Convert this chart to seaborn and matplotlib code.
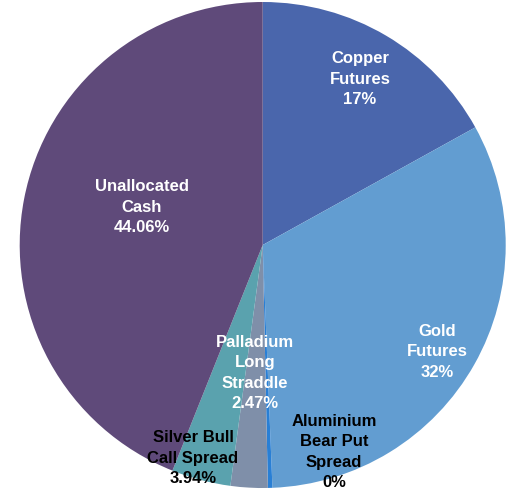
import matplotlib
matplotlib.use("Agg")
import matplotlib.pyplot as plt
import seaborn as sns

# Portfolio allocation (percent of capital)
categories = ["Copper\nFutures", "Gold\nFutures", "Aluminium\nBear Put\nSpread",
              "Palladium\nLong\nStraddle", "Silver Bull\nCall Spread", "Unallocated\nCash"]
values = [17.0, 32.49, 0.3, 2.47, 3.94, 44.06]
decimals = [0, 0, 0, 2, 2, 2]

colors = ["#4A66AC", "#629DD1", "#297FD5", "#7F8FA9", "#5AA2AE", "#5F4A7A"]
text_colors = ["white", "white", "black", "white", "black", "white"]
# label anchor points in pie units (centre 0,0, radius 1)
label_pos = [(0.40, 0.683), (0.72, -0.44), (0.293, -0.852),
             (-0.032, -0.527), (-0.287, -0.877), (-0.498, 0.156)]

sns.set_style("white")
plt.rcParams["font.family"] = ["Liberation Sans", "DejaVu Sans"]

W, H = 509, 490
fig = plt.figure(figsize=(W / 100, H / 100), dpi=100)
cx, cy, R = 262.7, 245.0, 243.0
ax = fig.add_axes([(cx - R) / W, (H - cy - R) / H, 2 * R / W, 2 * R / H])

ax.pie(values, colors=colors, startangle=90, counterclock=False,
       radius=1.0, wedgeprops=dict(linewidth=0, antialiased=True))
ax.set_xlim(-1, 1)
ax.set_ylim(-1, 1)
ax.set_aspect("equal")
ax.axis("off")

for cat, v, d, tc, (x, y) in zip(categories, values, decimals, text_colors, label_pos):
    ax.text(x, y, f"{cat}\n{v:.{d}f}%", ha="center", va="center",
            color=tc, fontsize=12, fontweight="bold", linespacing=1.45)

fig.savefig("out.png", dpi=100, facecolor="white")
